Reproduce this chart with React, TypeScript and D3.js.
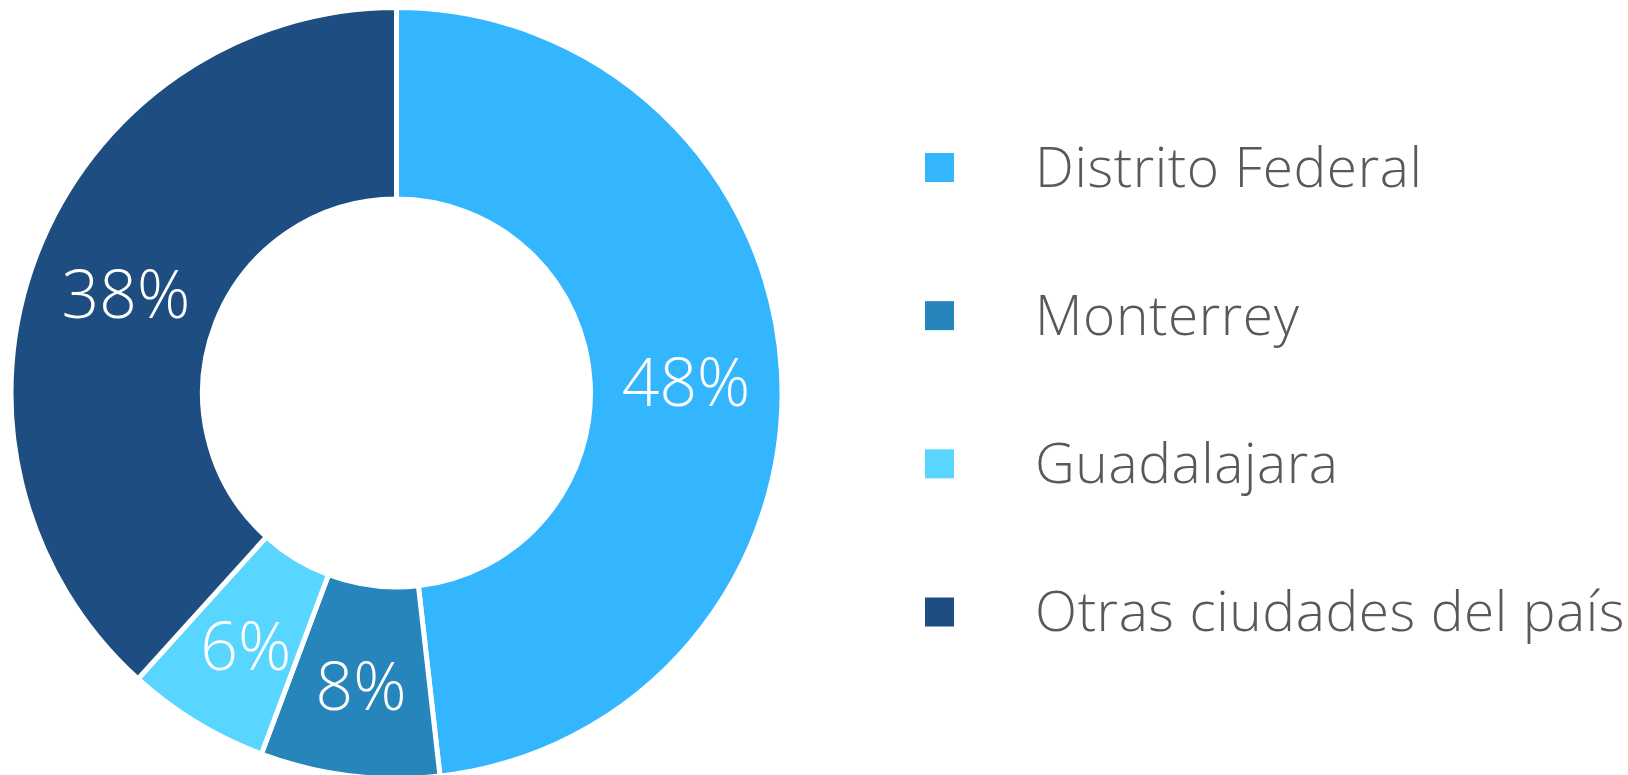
import React, { useEffect } from "react";
import * as d3 from "d3";

const categories = ["Distrito Federal", "Monterrey", "Guadalajara", "Otras ciudades del país"];
// shares; labels show the rounded percentages
const values = [48.2, 7.5, 6.0, 38.3];
const colors = ["#34B6FF", "#2685BB", "#59D6FF", "#1E4E81"];

const W = 1628;
const H = 775;
const cx = 396.5;
const cy = 393;
const outerR = 385.5;
const innerR = 194;

export default function App() {
  useEffect(() => {
    document.body.style.margin = "0";
  }, []);

  const total = d3.sum(values);
  const pie = d3.pie<number>().sort(null).value((d) => d);
  const arcs = pie(values);
  const arc = d3.arc<d3.PieArcDatum<number>>().innerRadius(innerR).outerRadius(outerR);
  const labelArc = d3.arc<d3.PieArcDatum<number>>().innerRadius(290).outerRadius(290);

  const legendY = d3.scaleLinear().domain([0, categories.length - 1]).range([167.5, 612]);

  return (
    <svg width={W} height={H} style={{ display: "block" }} fontFamily="'Open Sans', sans-serif">
      <g transform={`translate(${cx},${cy})`}>
        {arcs.map((a, i) => (
          <path key={i} d={arc(a) || ""} fill={colors[i]} stroke="#fff" strokeWidth={5} strokeLinejoin="miter" />
        ))}
        {arcs.map((a, i) => {
          const [x, y] = labelArc.centroid(a);
          return (
            <text key={"l" + i} x={x} y={y + 29} textAnchor="middle" fill="#fff" fontSize={66} fontWeight={300}>
              {`${Math.round((values[i] / total) * 100)}%`}
            </text>
          );
        })}
      </g>
      <g>
        {categories.map((c, i) => (
          <g key={c}>
            <rect x={925} y={legendY(i) - 14.5} width={29} height={29} fill={colors[i]} />
            <text x={1035} y={legendY(i) + 19} fill="#595959" fontSize={55} fontWeight={300} letterSpacing={0.6}>
              {c}
            </text>
          </g>
        ))}
      </g>
    </svg>
  );
}
